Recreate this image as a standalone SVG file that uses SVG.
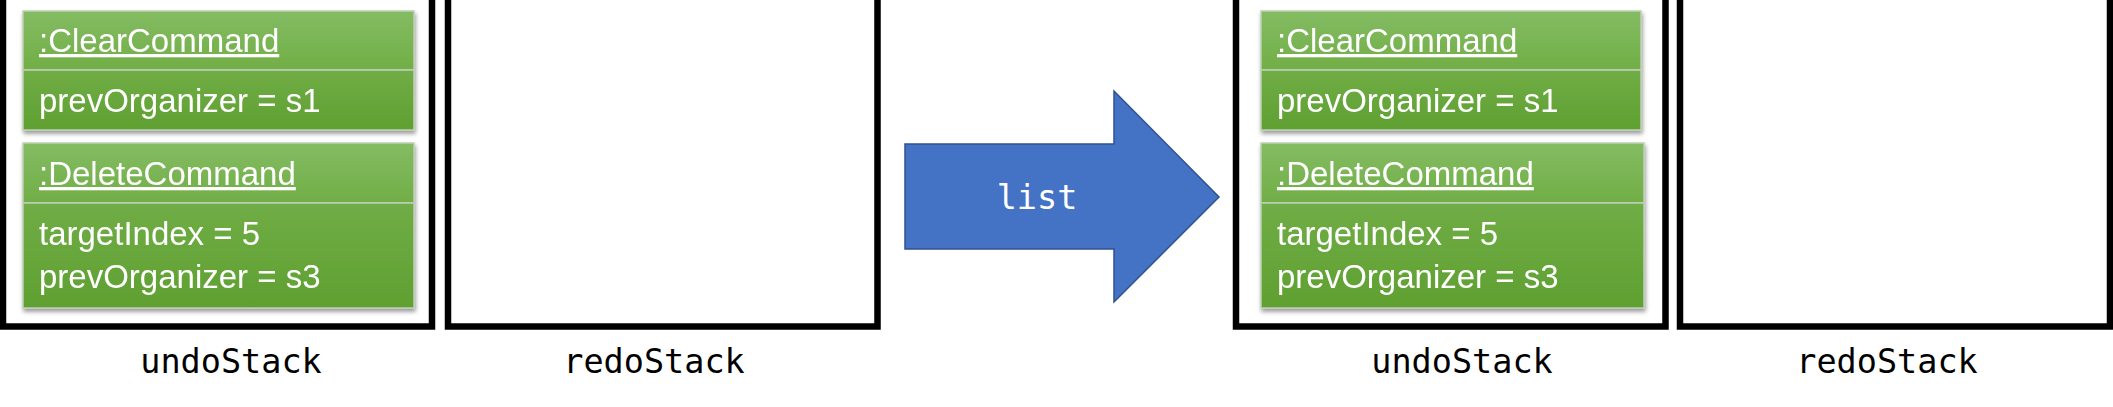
<svg xmlns="http://www.w3.org/2000/svg" width="2113" height="407" viewBox="0 0 2113 407">
<defs>
<linearGradient id="gTitle" x1="0" y1="0" x2="0" y2="1">
<stop offset="0" stop-color="#84BC63"/>
<stop offset="1" stop-color="#71AE46"/>
</linearGradient>
<linearGradient id="gBody" x1="0" y1="0" x2="0" y2="1">
<stop offset="0" stop-color="#70AD46"/>
<stop offset="1" stop-color="#5FA031"/>
</linearGradient>
<filter id="shadow" x="-5%" y="-10%" width="115%" height="130%">
<feDropShadow dx="1" dy="3" stdDeviation="2" flood-color="#000" flood-opacity="0.4"/>
</filter>
</defs>
<style>
.stack{fill:none;stroke:#000;stroke-width:6.5;stroke-linejoin:miter}
.title{fill:url(#gTitle);stroke:#BFCFB5;stroke-width:1.5}
.body{fill:url(#gBody);stroke:#BFCFB5;stroke-width:1.5}
.t{font-family:"Liberation Sans",Arial,sans-serif;font-size:33px;fill:#fff}
.u{text-decoration:underline}
.mono{font-family:"DejaVu Sans Mono","Liberation Mono",monospace;font-size:33.5px;text-anchor:middle}
.arrow{fill:#4472C4;stroke:#2F528F;stroke-width:1.5}
</style>
<rect width="2113" height="407" fill="#fff"/>

<g id="undoStack1">
<path class="stack" d="M3,0 V326.5 H432 V0"/>
<text class="mono" x="231" y="373">undoStack</text>
</g>
<g id="clearCommand1" filter="url(#shadow)">
<rect class="title" x="23" y="11" width="391" height="59"/>
<rect class="body" x="23" y="70" width="391" height="60"/>
<text class="t u" x="39" y="52">:ClearCommand</text>
<text class="t" x="39" y="112">prevOrganizer = s1</text>
</g>
<g id="deleteCommand1" filter="url(#shadow)">
<rect class="title" x="23" y="143" width="391" height="60"/>
<rect class="body" x="23" y="203" width="391" height="105"/>
<text class="t u" x="39" y="185">:DeleteCommand</text>
<text class="t" x="39" y="245">targetIndex = 5</text>
<text class="t" x="39" y="288">prevOrganizer = s3</text>
</g>

<g id="redoStack1">
<path class="stack" d="M448,0 V326.5 H877.5 V0"/>
<text class="mono" x="654" y="373">redoStack</text>
</g>

<g id="listArrow">
<polygon class="arrow" points="905,144 1114,144 1114,91 1219,197 1114,302 1114,249 905,249"/>
<text class="mono" x="1037" y="209" fill="#fff">list</text>
</g>

<g id="undoStack2">
<path class="stack" d="M1236,0 V326.5 H1665.5 V0"/>
<text class="mono" x="1462" y="373">undoStack</text>
</g>
<g id="clearCommand2" filter="url(#shadow)">
<rect class="title" x="1261" y="11" width="380" height="59"/>
<rect class="body" x="1261" y="70" width="380" height="60"/>
<text class="t u" x="1277" y="52">:ClearCommand</text>
<text class="t" x="1277" y="112">prevOrganizer = s1</text>
</g>
<g id="deleteCommand2" filter="url(#shadow)">
<rect class="title" x="1261" y="143" width="383" height="60"/>
<rect class="body" x="1261" y="203" width="383" height="105"/>
<text class="t u" x="1277" y="185">:DeleteCommand</text>
<text class="t" x="1277" y="245">targetIndex = 5</text>
<text class="t" x="1277" y="288">prevOrganizer = s3</text>
</g>

<g id="redoStack2">
<path class="stack" d="M1680,0 V326.5 H2110 V0"/>
<text class="mono" x="1887" y="373">redoStack</text>
</g>

<g id="connectors"></g>
</svg>
